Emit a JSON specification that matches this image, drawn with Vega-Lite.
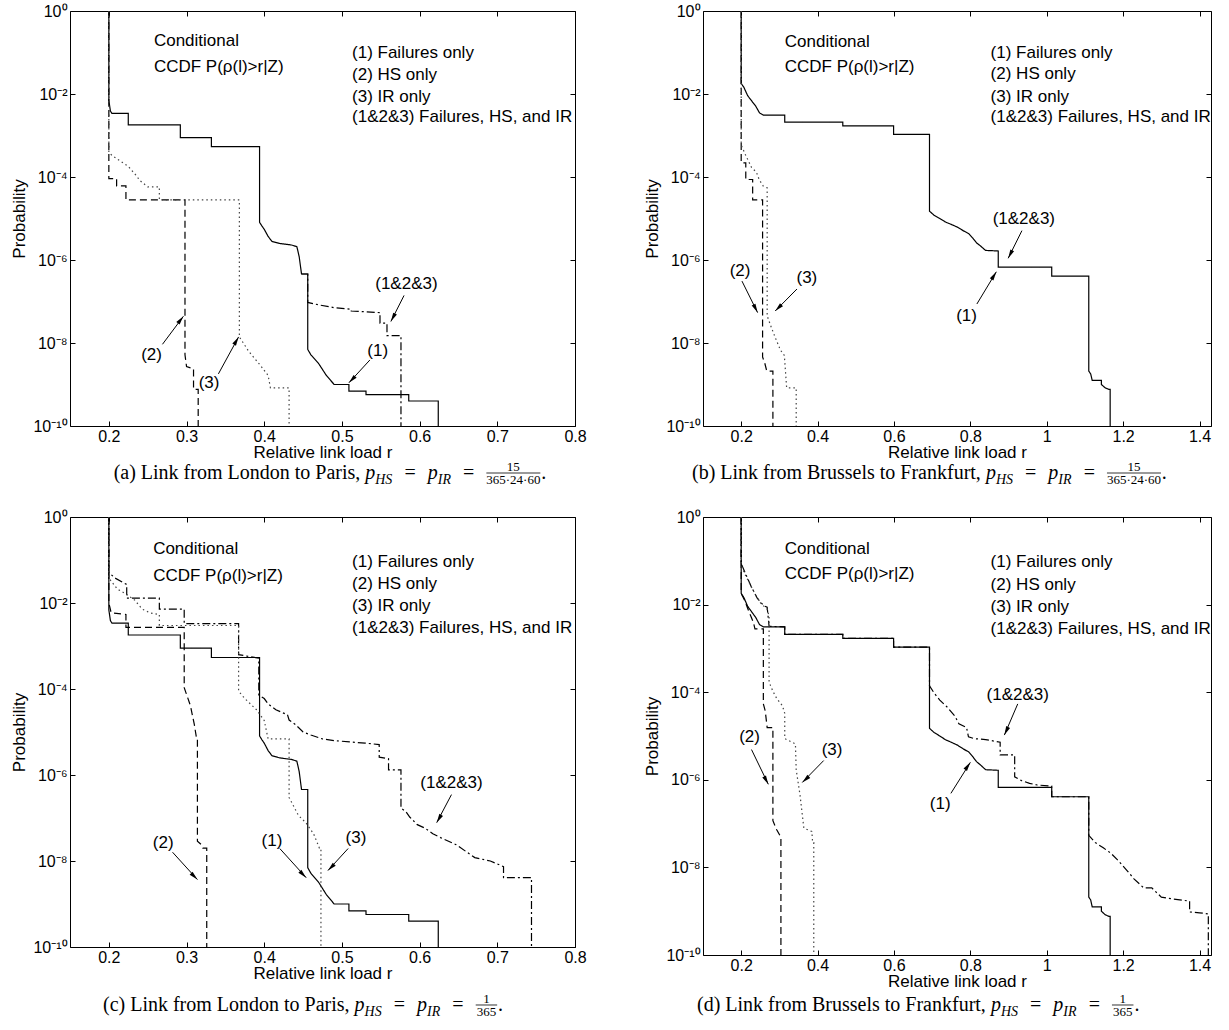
{
"$schema": "https://vega.github.io/schema/vega-lite/v6.json",
"background": "white",
"padding": {"left": 10, "top": 2, "right": 5, "bottom": 0},
"config": {
 "view": {"stroke": "black", "strokeWidth": 1},
 "font": "Liberation Sans",
 "axis": {"domain": false, "grid": false, "tickSize": -5, "tickColor": "black", "tickWidth": 1, "labelFont": "Liberation Sans", "labelFontSize": 16, "labelColor": "black", "labelFlush": false, "labelOverlap": false, "labelBound": false, "titleFont": "Liberation Sans", "titleFontSize": 17, "titleFontWeight": "normal", "titleColor": "black"},
 "axisBottom": {"labelPadding": 7, "titlePadding": 0},
 "axisLeft": {"labelPadding": 8, "titlePadding": 4}
},
"datasets": {
"curves": [
{"panel":"ac","series":"1","r":0.2,"p":1},{"panel":"ac","series":"1","r":0.2,"p":6.9e-3},{"panel":"ac","series":"1","r":0.202,"p":3.9e-3},{"panel":"ac","series":"1","r":0.204,"p":3.4e-3},{"panel":"ac","series":"1","r":0.225,"p":3.4e-3},{"panel":"ac","series":"1","r":0.225,"p":1.8e-3},{"panel":"ac","series":"1","r":0.292,"p":1.8e-3},{"panel":"ac","series":"1","r":0.292,"p":8.9e-4},{"panel":"ac","series":"1","r":0.332,"p":8.9e-4},{"panel":"ac","series":"1","r":0.332,"p":5.4e-4},{"panel":"ac","series":"1","r":0.394,"p":5.4e-4},{"panel":"ac","series":"1","r":0.394,"p":8.1e-6},{"panel":"ac","series":"1","r":0.397,"p":6.6e-6},{"panel":"ac","series":"1","r":0.4,"p":5.5e-6},{"panel":"ac","series":"1","r":0.405,"p":3.7e-6},{"panel":"ac","series":"1","r":0.41,"p":2.8e-6},{"panel":"ac","series":"1","r":0.42,"p":2.5e-6},{"panel":"ac","series":"1","r":0.435,"p":2.3e-6},{"panel":"ac","series":"1","r":0.442,"p":2.1e-6},{"panel":"ac","series":"1","r":0.445,"p":1.2e-6},{"panel":"ac","series":"1","r":0.448,"p":4.6e-7},{"panel":"ac","series":"1","r":0.456,"p":4.6e-7},{"panel":"ac","series":"1","r":0.456,"p":7.0e-9},{"panel":"ac","series":"1","r":0.46,"p":5.2e-9},{"panel":"ac","series":"1","r":0.47,"p":3.2e-9},{"panel":"ac","series":"1","r":0.48,"p":1.65e-9},{"panel":"ac","series":"1","r":0.49,"p":1.0e-9},{"panel":"ac","series":"1","r":0.509,"p":1.0e-9},{"panel":"ac","series":"1","r":0.509,"p":6.9e-10},{"panel":"ac","series":"1","r":0.531,"p":6.9e-10},{"panel":"ac","series":"1","r":0.531,"p":5.7e-10},{"panel":"ac","series":"1","r":0.586,"p":5.7e-10},{"panel":"ac","series":"1","r":0.586,"p":4.0e-10},{"panel":"ac","series":"1","r":0.624,"p":4.0e-10},{"panel":"ac","series":"1","r":0.624,"p":1e-11},
{"panel":"a","series":"2","r":0.2,"p":1},{"panel":"a","series":"2","r":0.2,"p":9.1e-5},{"panel":"a","series":"2","r":0.21,"p":9.1e-5},{"panel":"a","series":"2","r":0.21,"p":6.1e-5},{"panel":"a","series":"2","r":0.222,"p":6.1e-5},{"panel":"a","series":"2","r":0.222,"p":2.8e-5},{"panel":"a","series":"2","r":0.298,"p":2.8e-5},{"panel":"a","series":"2","r":0.298,"p":5.2e-9},{"panel":"a","series":"2","r":0.3,"p":2.7e-9},{"panel":"a","series":"2","r":0.309,"p":2.4e-9},{"panel":"a","series":"2","r":0.309,"p":7.6e-10},{"panel":"a","series":"2","r":0.315,"p":7.6e-10},{"panel":"a","series":"2","r":0.315,"p":1e-11},
{"panel":"a","series":"3","r":0.2,"p":1},{"panel":"a","series":"3","r":0.2,"p":3.9e-4},{"panel":"a","series":"3","r":0.205,"p":3.2e-4},{"panel":"a","series":"3","r":0.215,"p":2.4e-4},{"panel":"a","series":"3","r":0.225,"p":1.8e-4},{"panel":"a","series":"3","r":0.235,"p":1.1e-4},{"panel":"a","series":"3","r":0.24,"p":8.2e-5},{"panel":"a","series":"3","r":0.25,"p":5.8e-5},{"panel":"a","series":"3","r":0.265,"p":5.8e-5},{"panel":"a","series":"3","r":0.265,"p":2.8e-5},{"panel":"a","series":"3","r":0.368,"p":2.8e-5},{"panel":"a","series":"3","r":0.368,"p":1.4e-8},{"panel":"a","series":"3","r":0.38,"p":6.3e-9},{"panel":"a","series":"3","r":0.395,"p":2.9e-9},{"panel":"a","series":"3","r":0.405,"p":1.65e-9},{"panel":"a","series":"3","r":0.408,"p":8.3e-10},{"panel":"a","series":"3","r":0.432,"p":8.3e-10},{"panel":"a","series":"3","r":0.432,"p":1e-11},
{"panel":"a","series":"123","r":0.448,"p":4.6e-7},{"panel":"a","series":"123","r":0.456,"p":4.6e-7},{"panel":"a","series":"123","r":0.456,"p":9.5e-8},{"panel":"a","series":"123","r":0.47,"p":8.3e-8},{"panel":"a","series":"123","r":0.49,"p":7.1e-8},{"panel":"a","series":"123","r":0.512,"p":6.5e-8},{"panel":"a","series":"123","r":0.512,"p":5.9e-8},{"panel":"a","series":"123","r":0.549,"p":5.4e-8},{"panel":"a","series":"123","r":0.549,"p":3.0e-8},{"panel":"a","series":"123","r":0.558,"p":3.0e-8},{"panel":"a","series":"123","r":0.558,"p":1.5e-8},{"panel":"a","series":"123","r":0.576,"p":1.5e-8},{"panel":"a","series":"123","r":0.576,"p":1e-11},
{"panel":"bd","series":"1","r":0.2,"p":1},{"panel":"bd","series":"1","r":0.2,"p":1.8e-2},{"panel":"bd","series":"1","r":0.207,"p":1.45e-2},{"panel":"bd","series":"1","r":0.217,"p":9.1e-3},{"panel":"bd","series":"1","r":0.227,"p":6.9e-3},{"panel":"bd","series":"1","r":0.238,"p":5.1e-3},{"panel":"bd","series":"1","r":0.248,"p":3.5e-3},{"panel":"bd","series":"1","r":0.258,"p":3.1e-3},{"panel":"bd","series":"1","r":0.314,"p":3.1e-3},{"panel":"bd","series":"1","r":0.314,"p":2.1e-3},{"panel":"bd","series":"1","r":0.466,"p":2.1e-3},{"panel":"bd","series":"1","r":0.466,"p":1.7e-3},{"panel":"bd","series":"1","r":0.599,"p":1.7e-3},{"panel":"bd","series":"1","r":0.599,"p":1.07e-3},{"panel":"bd","series":"1","r":0.693,"p":1.07e-3},{"panel":"bd","series":"1","r":0.693,"p":1.5e-5},{"panel":"bd","series":"1","r":0.705,"p":1.2e-5},{"panel":"bd","series":"1","r":0.72,"p":1.0e-5},{"panel":"bd","series":"1","r":0.735,"p":8.2e-6},{"panel":"bd","series":"1","r":0.75,"p":7.2e-6},{"panel":"bd","series":"1","r":0.766,"p":6.2e-6},{"panel":"bd","series":"1","r":0.781,"p":5.1e-6},{"panel":"bd","series":"1","r":0.796,"p":4.3e-6},{"panel":"bd","series":"1","r":0.806,"p":3.4e-6},{"panel":"bd","series":"1","r":0.816,"p":2.6e-6},{"panel":"bd","series":"1","r":0.826,"p":2.2e-6},{"panel":"bd","series":"1","r":0.84,"p":1.7e-6},{"panel":"bd","series":"1","r":0.873,"p":1.65e-6},{"panel":"bd","series":"1","r":0.873,"p":6.7e-7},{"panel":"bd","series":"1","r":1.013,"p":6.7e-7},{"panel":"bd","series":"1","r":1.013,"p":4.1e-7},{"panel":"bd","series":"1","r":1.11,"p":4.1e-7},{"panel":"bd","series":"1","r":1.11,"p":2.1e-9},{"panel":"bd","series":"1","r":1.115,"p":1.8e-9},{"panel":"bd","series":"1","r":1.119,"p":1.26e-9},{"panel":"bd","series":"1","r":1.143,"p":1.26e-9},{"panel":"bd","series":"1","r":1.143,"p":1.0e-9},{"panel":"bd","series":"1","r":1.153,"p":8.3e-10},{"panel":"bd","series":"1","r":1.163,"p":7.6e-10},{"panel":"bd","series":"1","r":1.166,"p":7.6e-10},{"panel":"bd","series":"1","r":1.166,"p":1e-11},
{"panel":"b","series":"2","r":0.2,"p":1},{"panel":"b","series":"2","r":0.2,"p":2.2e-4},{"panel":"b","series":"2","r":0.212,"p":2.2e-4},{"panel":"b","series":"2","r":0.212,"p":8.7e-5},{"panel":"b","series":"2","r":0.23,"p":8.7e-5},{"panel":"b","series":"2","r":0.23,"p":2.8e-5},{"panel":"b","series":"2","r":0.256,"p":2.8e-5},{"panel":"b","series":"2","r":0.256,"p":4.6e-9},{"panel":"b","series":"2","r":0.262,"p":3.2e-9},{"panel":"b","series":"2","r":0.267,"p":2.1e-9},{"panel":"b","series":"2","r":0.283,"p":2.1e-9},{"panel":"b","series":"2","r":0.283,"p":1e-11},
{"panel":"b","series":"3","r":0.2,"p":1},{"panel":"b","series":"3","r":0.2,"p":5.9e-4},{"panel":"b","series":"3","r":0.212,"p":3.3e-4},{"panel":"b","series":"3","r":0.227,"p":1.7e-4},{"panel":"b","series":"3","r":0.24,"p":1.3e-4},{"panel":"b","series":"3","r":0.247,"p":8.7e-5},{"panel":"b","series":"3","r":0.258,"p":6.0e-5},{"panel":"b","series":"3","r":0.268,"p":5.5e-5},{"panel":"b","series":"3","r":0.268,"p":4.5e-8},{"panel":"b","series":"3","r":0.278,"p":2.5e-8},{"panel":"b","series":"3","r":0.288,"p":1.44e-8},{"panel":"b","series":"3","r":0.303,"p":6.7e-9},{"panel":"b","series":"3","r":0.313,"p":5.0e-9},{"panel":"b","series":"3","r":0.319,"p":8.3e-10},{"panel":"b","series":"3","r":0.344,"p":8.3e-10},{"panel":"b","series":"3","r":0.344,"p":1e-11},
{"panel":"c","series":"123","r":0.2,"p":1},{"panel":"c","series":"123","r":0.2,"p":5.1e-2},{"panel":"c","series":"123","r":0.208,"p":3.8e-2},{"panel":"c","series":"123","r":0.218,"p":3.0e-2},{"panel":"c","series":"123","r":0.223,"p":2.7e-2},{"panel":"c","series":"123","r":0.223,"p":1.3e-2},{"panel":"c","series":"123","r":0.265,"p":1.3e-2},{"panel":"c","series":"123","r":0.265,"p":7.2e-3},{"panel":"c","series":"123","r":0.297,"p":7.2e-3},{"panel":"c","series":"123","r":0.297,"p":3.3e-3},{"panel":"c","series":"123","r":0.367,"p":3.3e-3},{"panel":"c","series":"123","r":0.367,"p":6.3e-4},{"panel":"c","series":"123","r":0.393,"p":5.2e-4},{"panel":"c","series":"123","r":0.393,"p":7.3e-5},{"panel":"c","series":"123","r":0.4,"p":6.0e-5},{"panel":"c","series":"123","r":0.405,"p":4.5e-5},{"panel":"c","series":"123","r":0.415,"p":3.3e-5},{"panel":"c","series":"123","r":0.43,"p":2.5e-5},{"panel":"c","series":"123","r":0.432,"p":1.9e-5},{"panel":"c","series":"123","r":0.44,"p":1.5e-5},{"panel":"c","series":"123","r":0.45,"p":1.0e-5},{"panel":"c","series":"123","r":0.46,"p":8.5e-6},{"panel":"c","series":"123","r":0.475,"p":6.9e-6},{"panel":"c","series":"123","r":0.49,"p":6.3e-6},{"panel":"c","series":"123","r":0.51,"p":5.9e-6},{"panel":"c","series":"123","r":0.53,"p":5.5e-6},{"panel":"c","series":"123","r":0.548,"p":5.1e-6},{"panel":"c","series":"123","r":0.548,"p":2.6e-6},{"panel":"c","series":"123","r":0.56,"p":2.4e-6},{"panel":"c","series":"123","r":0.56,"p":1.32e-6},{"panel":"c","series":"123","r":0.576,"p":1.32e-6},{"panel":"c","series":"123","r":0.576,"p":1.7e-7},{"panel":"c","series":"123","r":0.5825,"p":1.4e-7},{"panel":"c","series":"123","r":0.5875,"p":1.04e-7},{"panel":"c","series":"123","r":0.597,"p":7.0e-8},{"panel":"c","series":"123","r":0.607,"p":5.8e-8},{"panel":"c","series":"123","r":0.617,"p":4.3e-8},{"panel":"c","series":"123","r":0.627,"p":3.5e-8},{"panel":"c","series":"123","r":0.647,"p":2.4e-8},{"panel":"c","series":"123","r":0.661,"p":1.6e-8},{"panel":"c","series":"123","r":0.671,"p":1.2e-8},{"panel":"c","series":"123","r":0.691,"p":1.0e-8},{"panel":"c","series":"123","r":0.708,"p":7.4e-9},{"panel":"c","series":"123","r":0.708,"p":4.1e-9},{"panel":"c","series":"123","r":0.744,"p":4.1e-9},{"panel":"c","series":"123","r":0.744,"p":1e-11},
{"panel":"c","series":"2","r":0.2,"p":1},{"panel":"c","series":"2","r":0.2,"p":1.0e-2},{"panel":"c","series":"2","r":0.203,"p":5.9e-3},{"panel":"c","series":"2","r":0.222,"p":5.4e-3},{"panel":"c","series":"2","r":0.222,"p":2.7e-3},{"panel":"c","series":"2","r":0.297,"p":2.7e-3},{"panel":"c","series":"2","r":0.297,"p":1.07e-4},{"panel":"c","series":"2","r":0.305,"p":4.1e-5},{"panel":"c","series":"2","r":0.31,"p":1.5e-5},{"panel":"c","series":"2","r":0.313,"p":6.9e-6},{"panel":"c","series":"2","r":0.314,"p":6.9e-6},{"panel":"c","series":"2","r":0.314,"p":2.9e-8},{"panel":"c","series":"2","r":0.319,"p":2.4e-8},{"panel":"c","series":"2","r":0.321,"p":2.0e-8},{"panel":"c","series":"2","r":0.326,"p":2.0e-8},{"panel":"c","series":"2","r":0.326,"p":1e-11},
{"panel":"c","series":"3","r":0.2,"p":1},{"panel":"c","series":"3","r":0.2,"p":3.8e-2},{"panel":"c","series":"3","r":0.211,"p":2.1e-2},{"panel":"c","series":"3","r":0.2225,"p":1.6e-2},{"panel":"c","series":"3","r":0.233,"p":1.18e-2},{"panel":"c","series":"3","r":0.243,"p":7.2e-3},{"panel":"c","series":"3","r":0.253,"p":5.9e-3},{"panel":"c","series":"3","r":0.265,"p":5.4e-3},{"panel":"c","series":"3","r":0.265,"p":3.0e-3},{"panel":"c","series":"3","r":0.367,"p":3.0e-3},{"panel":"c","series":"3","r":0.367,"p":8.9e-5},{"panel":"c","series":"3","r":0.375,"p":6.0e-5},{"panel":"c","series":"3","r":0.39,"p":3.3e-5},{"panel":"c","series":"3","r":0.4,"p":1.85e-5},{"panel":"c","series":"3","r":0.405,"p":6.9e-6},{"panel":"c","series":"3","r":0.432,"p":6.9e-6},{"panel":"c","series":"3","r":0.432,"p":3.0e-7},{"panel":"c","series":"3","r":0.444,"p":1.15e-7},{"panel":"c","series":"3","r":0.4535,"p":7.8e-8},{"panel":"c","series":"3","r":0.4635,"p":4.3e-8},{"panel":"c","series":"3","r":0.471,"p":2.0e-8},{"panel":"c","series":"3","r":0.473,"p":2.0e-8},{"panel":"c","series":"3","r":0.473,"p":1e-11},
{"panel":"d","series":"123","r":0.2,"p":1},{"panel":"d","series":"123","r":0.2,"p":8.7e-2},{"panel":"d","series":"123","r":0.212,"p":4.9e-2},{"panel":"d","series":"123","r":0.227,"p":2.5e-2},{"panel":"d","series":"123","r":0.242,"p":1.4e-2},{"panel":"d","series":"123","r":0.258,"p":9.6e-3},{"panel":"d","series":"123","r":0.268,"p":8.7e-3},{"panel":"d","series":"123","r":0.273,"p":3.2e-3},{"panel":"d","series":"123","r":0.314,"p":3.1e-3},{"panel":"d","series":"123","r":0.314,"p":2.1e-3},{"panel":"d","series":"123","r":0.466,"p":2.1e-3},{"panel":"d","series":"123","r":0.466,"p":1.7e-3},{"panel":"d","series":"123","r":0.599,"p":1.7e-3},{"panel":"d","series":"123","r":0.599,"p":1.07e-3},{"panel":"d","series":"123","r":0.693,"p":1.07e-3},{"panel":"d","series":"123","r":0.693,"p":1.4e-4},{"panel":"d","series":"123","r":0.705,"p":9.6e-5},{"panel":"d","series":"123","r":0.72,"p":6.6e-5},{"panel":"d","series":"123","r":0.74,"p":4.5e-5},{"panel":"d","series":"123","r":0.76,"p":2.8e-5},{"panel":"d","series":"123","r":0.77,"p":1.9e-5},{"panel":"d","series":"123","r":0.79,"p":1.56e-5},{"panel":"d","series":"123","r":0.795,"p":9.6e-6},{"panel":"d","series":"123","r":0.81,"p":8.7e-6},{"panel":"d","series":"123","r":0.84,"p":8.3e-6},{"panel":"d","series":"123","r":0.878,"p":7.2e-6},{"panel":"d","series":"123","r":0.878,"p":3.7e-6},{"panel":"d","series":"123","r":0.916,"p":3.7e-6},{"panel":"d","series":"123","r":0.916,"p":1.17e-6},{"panel":"d","series":"123","r":0.934,"p":9.6e-7},{"panel":"d","series":"123","r":0.955,"p":8.3e-7},{"panel":"d","series":"123","r":0.975,"p":7.6e-7},{"panel":"d","series":"123","r":1.013,"p":7.2e-7},{"panel":"d","series":"123","r":1.013,"p":4.1e-7},{"panel":"d","series":"123","r":1.11,"p":4.1e-7},{"panel":"d","series":"123","r":1.11,"p":5.4e-8},{"panel":"d","series":"123","r":1.127,"p":3.7e-8},{"panel":"d","series":"123","r":1.148,"p":2.8e-8},{"panel":"d","series":"123","r":1.168,"p":2.1e-8},{"panel":"d","series":"123","r":1.188,"p":1.4e-8},{"panel":"d","series":"123","r":1.209,"p":8.7e-9},{"panel":"d","series":"123","r":1.229,"p":5.4e-9},{"panel":"d","series":"123","r":1.254,"p":3.4e-9},{"panel":"d","series":"123","r":1.275,"p":3.4e-9},{"panel":"d","series":"123","r":1.3,"p":2.1e-9},{"panel":"d","series":"123","r":1.331,"p":1.9e-9},{"panel":"d","series":"123","r":1.374,"p":1.7e-9},{"panel":"d","series":"123","r":1.374,"p":9.6e-10},{"panel":"d","series":"123","r":1.4,"p":9.2e-10},{"panel":"d","series":"123","r":1.423,"p":8.7e-10},{"panel":"d","series":"123","r":1.423,"p":1e-11},
{"panel":"d","series":"2","r":0.2,"p":1},{"panel":"d","series":"2","r":0.2,"p":1.8e-2},{"panel":"d","series":"2","r":0.21,"p":1.2e-2},{"panel":"d","series":"2","r":0.22,"p":7e-3},{"panel":"d","series":"2","r":0.227,"p":5e-3},{"panel":"d","series":"2","r":0.232,"p":3.9e-3},{"panel":"d","series":"2","r":0.236,"p":2.8e-3},{"panel":"d","series":"2","r":0.258,"p":2.8e-3},{"panel":"d","series":"2","r":0.258,"p":5.4e-5},{"panel":"d","series":"2","r":0.263,"p":3.7e-5},{"panel":"d","series":"2","r":0.268,"p":1.56e-5},{"panel":"d","series":"2","r":0.283,"p":1.56e-5},{"panel":"d","series":"2","r":0.283,"p":1.17e-7},{"panel":"d","series":"2","r":0.293,"p":7.2e-8},{"panel":"d","series":"2","r":0.304,"p":4.9e-8},{"panel":"d","series":"2","r":0.304,"p":1e-11},
{"panel":"d","series":"3","r":0.2,"p":1},{"panel":"d","series":"3","r":0.2,"p":7.9e-2},{"panel":"d","series":"3","r":0.212,"p":4.5e-2},{"panel":"d","series":"3","r":0.227,"p":2.5e-2},{"panel":"d","series":"3","r":0.237,"p":1.7e-2},{"panel":"d","series":"3","r":0.252,"p":1.05e-2},{"panel":"d","series":"3","r":0.268,"p":7.9e-3},{"panel":"d","series":"3","r":0.273,"p":5.4e-3},{"panel":"d","series":"3","r":0.273,"p":1.7e-4},{"panel":"d","series":"3","r":0.283,"p":1.05e-4},{"panel":"d","series":"3","r":0.293,"p":7.2e-5},{"panel":"d","series":"3","r":0.308,"p":4.9e-5},{"panel":"d","series":"3","r":0.314,"p":3.3e-5},{"panel":"d","series":"3","r":0.314,"p":8.7e-6},{"panel":"d","series":"3","r":0.342,"p":6.6e-6},{"panel":"d","series":"3","r":0.344,"p":1.7e-6},{"panel":"d","series":"3","r":0.354,"p":4.5e-7},{"panel":"d","series":"3","r":0.364,"p":7.9e-8},{"panel":"d","series":"3","r":0.385,"p":6.6e-8},{"panel":"d","series":"3","r":0.387,"p":3.7e-8},{"panel":"d","series":"3","r":0.39,"p":3.7e-8},{"panel":"d","series":"3","r":0.39,"p":1e-11}
],
"notes": [
{"panel":"a","text":"Conditional","r":0.258,"p":0.186},{"panel":"a","text":"CCDF P(ρ(l)>r|Z)","r":0.258,"p":0.0437},{"panel":"a","text":"(1) Failures only","r":0.513,"p":0.0955},{"panel":"a","text":"(2) HS only","r":0.513,"p":0.0282},{"panel":"a","text":"(3) IR only","r":0.513,"p":8.7e-3},{"panel":"a","text":"(1&2&3) Failures, HS, and IR","r":0.513,"p":2.75e-3},
{"panel":"b","text":"Conditional","r":0.314,"p":0.182},{"panel":"b","text":"CCDF P(ρ(l)>r|Z)","r":0.314,"p":0.0457},{"panel":"b","text":"(1) Failures only","r":0.853,"p":0.098},{"panel":"b","text":"(2) HS only","r":0.853,"p":0.030},{"panel":"b","text":"(3) IR only","r":0.853,"p":8.7e-3},{"panel":"b","text":"(1&2&3) Failures, HS, and IR","r":0.853,"p":2.8e-3},
{"panel":"c","text":"Conditional","r":0.257,"p":0.182},{"panel":"c","text":"CCDF P(ρ(l)>r|Z)","r":0.257,"p":0.0417},{"panel":"c","text":"(1) Failures only","r":0.513,"p":0.091},{"panel":"c","text":"(2) HS only","r":0.513,"p":0.028},{"panel":"c","text":"(3) IR only","r":0.513,"p":8.7e-3},{"panel":"c","text":"(1&2&3) Failures, HS, and IR","r":0.513,"p":2.6e-3},
{"panel":"d","text":"Conditional","r":0.314,"p":0.186},{"panel":"d","text":"CCDF P(ρ(l)>r|Z)","r":0.314,"p":0.049},{"panel":"d","text":"(1) Failures only","r":0.853,"p":0.0955},{"panel":"d","text":"(2) HS only","r":0.853,"p":0.0275},{"panel":"d","text":"(3) IR only","r":0.853,"p":8.7e-3},{"panel":"d","text":"(1&2&3) Failures, HS, and IR","r":0.853,"p":2.75e-3}
],
"tags": [
{"panel":"a","text":"(1&2&3)","r":0.583,"p":2.6e-7},{"panel":"a","text":"(1)","r":0.546,"p":6.3e-9},{"panel":"a","text":"(2)","r":0.255,"p":5.2e-9},{"panel":"a","text":"(3)","r":0.329,"p":1.1e-9},
{"panel":"b","text":"(1&2&3)","r":0.94,"p":1e-5},{"panel":"b","text":"(1)","r":0.79,"p":4.5e-8},{"panel":"b","text":"(2)","r":0.197,"p":5.5e-7},{"panel":"b","text":"(3)","r":0.372,"p":3.6e-7},
{"panel":"c","text":"(1&2&3)","r":0.641,"p":6.5e-7},{"panel":"c","text":"(1)","r":0.41,"p":2.9e-8},{"panel":"c","text":"(2)","r":0.27,"p":2.6e-8},{"panel":"c","text":"(3)","r":0.518,"p":3.5e-8},
{"panel":"d","text":"(1&2&3)","r":0.924,"p":8.7e-5},{"panel":"d","text":"(1)","r":0.721,"p":2.75e-7},{"panel":"d","text":"(2)","r":0.222,"p":9.3e-6},{"panel":"d","text":"(3)","r":0.438,"p":4.9e-6}
],
"arrows": [
{"panel":"a","r0":0.58,"p0":1.4e-7,"r1":0.563,"p1":3.3e-8,"heading":208},{"panel":"a","r0":0.536,"p0":3.9e-9,"r1":0.509,"p1":1.1e-9,"heading":224},{"panel":"a","r0":0.269,"p0":9.3e-9,"r1":0.296,"p1":4.4e-8,"heading":38},{"panel":"a","r0":0.341,"p0":1.8e-9,"r1":0.367,"p1":1.4e-8,"heading":30},
{"panel":"b","r0":0.935,"p0":5.1e-6,"r1":0.899,"p1":1.1e-6,"heading":207},{"panel":"b","r0":0.817,"p0":8.7e-8,"r1":0.868,"p1":5.2e-7,"heading":32},{"panel":"b","r0":0.202,"p0":3.1e-7,"r1":0.243,"p1":5.4e-8,"heading":153},{"panel":"b","r0":0.346,"p0":2.0e-7,"r1":0.289,"p1":5.9e-8,"heading":225},
{"panel":"c","r0":0.641,"p0":3.5e-7,"r1":0.622,"p1":7.8e-8,"heading":210},{"panel":"c","r0":0.42,"p0":1.95e-8,"r1":0.454,"p1":4.1e-9,"heading":135},{"panel":"c","r0":0.282,"p0":1.6e-8,"r1":0.314,"p1":3.7e-9,"heading":135},{"panel":"c","r0":0.508,"p0":1.95e-8,"r1":0.482,"p1":6.0e-9,"heading":225},
{"panel":"d","r0":0.924,"p0":5.4e-5,"r1":0.889,"p1":1.05e-5,"heading":205},{"panel":"d","r0":0.749,"p0":4.9e-7,"r1":0.8,"p1":2.5e-6,"heading":35},{"panel":"d","r0":0.227,"p0":4.9e-6,"r1":0.271,"p1":7.9e-7,"heading":152},{"panel":"d","r0":0.416,"p0":2.75e-6,"r1":0.36,"p1":8.7e-7,"heading":227}
],
"captions": [
{"panel":"a","part":"lead","text":"(a) Link from London to Paris,","r":0.5236},{"panel":"a","part":"it","text":"p","r":0.53},{"panel":"a","part":"sub","text":"HS","r":0.5429},{"panel":"a","part":"eq","text":"=","r":0.5877},{"panel":"a","part":"it","text":"p","r":0.6104},{"panel":"a","part":"sub","text":"IR","r":0.6233},{"panel":"a","part":"eq","text":"=","r":0.6631},{"panel":"a","part":"num","text":"15","r":0.7206},{"panel":"a","part":"den","text":"365·24·60","r":0.7206},{"panel":"a","part":"bar","text":"","r":0.6859,"r2":0.7554},{"panel":"a","part":"end","text":".","r":0.7565},
{"panel":"b","part":"lead","text":"(b) Link from Brussels to Frankfurt,","r":0.8275},{"panel":"b","part":"it","text":"p","r":0.8406},{"panel":"b","part":"sub","text":"HS","r":0.8668},{"panel":"b","part":"eq","text":"=","r":0.9579},{"panel":"b","part":"it","text":"p","r":1.0042},{"panel":"b","part":"sub","text":"IR","r":1.0304},{"panel":"b","part":"eq","text":"=","r":1.1113},{"panel":"b","part":"num","text":"15","r":1.2283},{"panel":"b","part":"den","text":"365·24·60","r":1.2283},{"panel":"b","part":"bar","text":"","r":1.1576,"r2":1.299},{"panel":"b","part":"end","text":".","r":1.3013},
{"panel":"c","part":"lead","text":"(c) Link from London to Paris,","r":0.5099},{"panel":"c","part":"it","text":"p","r":0.5163},{"panel":"c","part":"sub","text":"HS","r":0.5292},{"panel":"c","part":"eq","text":"=","r":0.574},{"panel":"c","part":"it","text":"p","r":0.5967},{"panel":"c","part":"sub","text":"IR","r":0.6096},{"panel":"c","part":"eq","text":"=","r":0.6494},{"panel":"c","part":"num","text":"1","r":0.6861},{"panel":"c","part":"den","text":"365","r":0.6861},{"panel":"c","part":"bar","text":"","r":0.6722,"r2":0.6998},{"panel":"c","part":"end","text":".","r":0.701},
{"panel":"d","part":"lead","text":"(d) Link from Brussels to Frankfurt,","r":0.8406},{"panel":"d","part":"it","text":"p","r":0.8537},{"panel":"d","part":"sub","text":"HS","r":0.8799},{"panel":"d","part":"eq","text":"=","r":0.971},{"panel":"d","part":"it","text":"p","r":1.0173},{"panel":"d","part":"sub","text":"IR","r":1.0435},{"panel":"d","part":"eq","text":"=","r":1.1244},{"panel":"d","part":"num","text":"1","r":1.199},{"panel":"d","part":"den","text":"365","r":1.199},{"panel":"d","part":"bar","text":"","r":1.1707,"r2":1.227},{"panel":"d","part":"end","text":".","r":1.2294}
]
},
"spacing": 20,
"vconcat": [
{"spacing": 56, "hconcat": [
{"width": 505, "height": 415,
 "resolve": {"axis": {"x": "independent", "y": "independent"}},
 "layer": [
  {"data": {"name": "curves"}, "transform": [{"filter": "indexof(datum.panel,'a')>=0"}],
   "mark": {"type": "line", "clip": true, "strokeWidth": 1.2},
   "encoding": {
    "x": {"field": "r", "type": "quantitative", "scale": {"domain": [0.15, 0.8], "zero": false, "nice": false}, "axis": {"values": [0.2,0.3,0.4,0.5,0.6,0.7,0.8], "format": "~g", "title": "Relative link load r"}},
    "y": {"field": "p", "type": "quantitative", "scale": {"type": "log", "domain": [1e-10, 1], "nice": false}, "axis": {"values": [1e-10,1e-8,1e-6,1e-4,1e-2,1], "labelExpr": "datum.value > 0.5 ? '10⁰' : datum.value > 5e-3 ? '10⁻²' : datum.value > 5e-5 ? '10⁻⁴' : datum.value > 5e-7 ? '10⁻⁶' : datum.value > 5e-9 ? '10⁻⁸' : '10⁻¹⁰'", "title": "Probability"}},
    "detail": {"field": "series", "type": "nominal"},
    "strokeDash": {"field": "series", "type": "nominal", "scale": {"domain": ["1","2","3","123"], "range": [[1,0],[7,4],[1.5,3],[8,3,2,3]]}, "legend": null},
    "color": {"field": "series", "type": "nominal", "scale": {"domain": ["1","2","3","123"], "range": ["#000000","#000000","#444444","#000000"]}, "legend": null},
    "order": {"value": null}}},
  {"data": {"name": "arrows"}, "transform": [{"filter": "datum.panel=='a'"}],
   "mark": {"type": "rule", "color": "black", "strokeWidth": 1},
   "encoding": {
    "x": {"field": "r0", "type": "quantitative", "axis": {"orient": "top", "values": [0.2,0.3,0.4,0.5,0.6,0.7,0.8], "labels": false, "title": null}},
    "y": {"field": "p0", "type": "quantitative", "axis": {"orient": "right", "values": [1e-10,1e-8,1e-6,1e-4,1e-2,1], "labels": false, "title": null}},
    "x2": {"field": "r1"}, "y2": {"field": "p1"}}},
  {"data": {"name": "arrows"}, "transform": [{"filter": "datum.panel=='a'"}],
   "mark": {"type": "point", "shape": "M0,0L0.4,1.7L-0.4,1.7Z", "filled": true, "color": "black", "opacity": 1, "size": 110},
   "encoding": {"x": {"field": "r1", "type": "quantitative", "axis": null}, "y": {"field": "p1", "type": "quantitative", "axis": null}, "angle": {"field": "heading", "type": "quantitative", "scale": null}}},
  {"data": {"name": "notes"}, "transform": [{"filter": "datum.panel=='a'"}],
   "mark": {"type": "text", "align": "left", "baseline": "middle", "fontSize": 17, "font": "Liberation Sans", "color": "black"},
   "encoding": {"x": {"field": "r", "type": "quantitative", "axis": null}, "y": {"field": "p", "type": "quantitative", "axis": null}, "text": {"field": "text"}}},
  {"data": {"name": "tags"}, "transform": [{"filter": "datum.panel=='a'"}],
   "mark": {"type": "text", "align": "center", "baseline": "middle", "fontSize": 17, "font": "Liberation Sans", "color": "black"},
   "encoding": {"x": {"field": "r", "type": "quantitative", "axis": null}, "y": {"field": "p", "type": "quantitative", "axis": null}, "text": {"field": "text"}}},
  {"data": {"name": "captions"}, "transform": [{"filter": "datum.panel=='a' && datum.part=='lead'"}],
   "mark": {"type": "text", "align": "right", "baseline": "alphabetic", "fontSize": 20, "font": "Liberation Serif", "color": "black"},
   "encoding": {"x": {"field": "r", "type": "quantitative", "axis": null}, "y": {"datum": 5.28e-12, "type": "quantitative", "axis": null}, "text": {"field": "text"}}},
  {"data": {"name": "captions"}, "transform": [{"filter": "datum.panel=='a' && datum.part=='it'"}],
   "mark": {"type": "text", "align": "left", "baseline": "alphabetic", "fontSize": 20, "fontStyle": "italic", "font": "Liberation Serif", "color": "black"},
   "encoding": {"x": {"field": "r", "type": "quantitative", "axis": null}, "y": {"datum": 5.28e-12, "type": "quantitative", "axis": null}, "text": {"field": "text"}}},
  {"data": {"name": "captions"}, "transform": [{"filter": "datum.panel=='a' && datum.part=='sub'"}],
   "mark": {"type": "text", "align": "left", "baseline": "alphabetic", "fontSize": 14, "fontStyle": "italic", "font": "Liberation Serif", "color": "black", "dy": 5},
   "encoding": {"x": {"field": "r", "type": "quantitative", "axis": null}, "y": {"datum": 5.28e-12, "type": "quantitative", "axis": null}, "text": {"field": "text"}}},
  {"data": {"name": "captions"}, "transform": [{"filter": "datum.panel=='a' && datum.part=='eq'"}],
   "mark": {"type": "text", "align": "center", "baseline": "alphabetic", "fontSize": 20, "font": "Liberation Serif", "color": "black"},
   "encoding": {"x": {"field": "r", "type": "quantitative", "axis": null}, "y": {"datum": 5.28e-12, "type": "quantitative", "axis": null}, "text": {"field": "text"}}},
  {"data": {"name": "captions"}, "transform": [{"filter": "datum.panel=='a' && datum.part=='num'"}],
   "mark": {"type": "text", "align": "center", "baseline": "alphabetic", "fontSize": 13, "font": "Liberation Serif", "color": "black", "dy": -8},
   "encoding": {"x": {"field": "r", "type": "quantitative", "axis": null}, "y": {"datum": 5.28e-12, "type": "quantitative", "axis": null}, "text": {"field": "text"}}},
  {"data": {"name": "captions"}, "transform": [{"filter": "datum.panel=='a' && datum.part=='den'"}],
   "mark": {"type": "text", "align": "center", "baseline": "alphabetic", "fontSize": 13, "font": "Liberation Serif", "color": "black", "dy": 5},
   "encoding": {"x": {"field": "r", "type": "quantitative", "axis": null}, "y": {"datum": 5.28e-12, "type": "quantitative", "axis": null}, "text": {"field": "text"}}},
  {"data": {"name": "captions"}, "transform": [{"filter": "datum.panel=='a' && datum.part=='bar'"}],
   "mark": {"type": "rule", "color": "black", "strokeWidth": 0.8},
   "encoding": {"x": {"field": "r", "type": "quantitative", "axis": null}, "x2": {"field": "r2"}, "y": {"datum": 7.37e-12, "type": "quantitative", "axis": null}}},
  {"data": {"name": "captions"}, "transform": [{"filter": "datum.panel=='a' && datum.part=='end'"}],
   "mark": {"type": "text", "align": "left", "baseline": "alphabetic", "fontSize": 20, "font": "Liberation Serif", "color": "black"},
   "encoding": {"x": {"field": "r", "type": "quantitative", "axis": null}, "y": {"datum": 5.28e-12, "type": "quantitative", "axis": null}, "text": {"field": "text"}}}
 ]},
{"width": 508, "height": 415,
 "resolve": {"axis": {"x": "independent", "y": "independent"}},
 "layer": [
  {"data": {"name": "curves"}, "transform": [{"filter": "indexof(datum.panel,'b')>=0"}],
   "mark": {"type": "line", "clip": true, "strokeWidth": 1.2},
   "encoding": {
    "x": {"field": "r", "type": "quantitative", "scale": {"domain": [0.1, 1.43], "zero": false, "nice": false}, "axis": {"values": [0.2,0.4,0.6,0.8,1,1.2,1.4], "format": "~g", "title": "Relative link load r"}},
    "y": {"field": "p", "type": "quantitative", "scale": {"type": "log", "domain": [1e-10, 1], "nice": false}, "axis": {"values": [1e-10,1e-8,1e-6,1e-4,1e-2,1], "labelExpr": "datum.value > 0.5 ? '10⁰' : datum.value > 5e-3 ? '10⁻²' : datum.value > 5e-5 ? '10⁻⁴' : datum.value > 5e-7 ? '10⁻⁶' : datum.value > 5e-9 ? '10⁻⁸' : '10⁻¹⁰'", "title": "Probability"}},
    "detail": {"field": "series", "type": "nominal"},
    "strokeDash": {"field": "series", "type": "nominal", "scale": {"domain": ["1","2","3","123"], "range": [[1,0],[7,4],[1.5,3],[8,3,2,3]]}, "legend": null},
    "color": {"field": "series", "type": "nominal", "scale": {"domain": ["1","2","3","123"], "range": ["#000000","#000000","#444444","#000000"]}, "legend": null},
    "order": {"value": null}}},
  {"data": {"name": "arrows"}, "transform": [{"filter": "datum.panel=='b'"}],
   "mark": {"type": "rule", "color": "black", "strokeWidth": 1},
   "encoding": {
    "x": {"field": "r0", "type": "quantitative", "axis": {"orient": "top", "values": [0.2,0.4,0.6,0.8,1,1.2,1.4], "labels": false, "title": null}},
    "y": {"field": "p0", "type": "quantitative", "axis": {"orient": "right", "values": [1e-10,1e-8,1e-6,1e-4,1e-2,1], "labels": false, "title": null}},
    "x2": {"field": "r1"}, "y2": {"field": "p1"}}},
  {"data": {"name": "arrows"}, "transform": [{"filter": "datum.panel=='b'"}],
   "mark": {"type": "point", "shape": "M0,0L0.4,1.7L-0.4,1.7Z", "filled": true, "color": "black", "opacity": 1, "size": 110},
   "encoding": {"x": {"field": "r1", "type": "quantitative", "axis": null}, "y": {"field": "p1", "type": "quantitative", "axis": null}, "angle": {"field": "heading", "type": "quantitative", "scale": null}}},
  {"data": {"name": "notes"}, "transform": [{"filter": "datum.panel=='b'"}],
   "mark": {"type": "text", "align": "left", "baseline": "middle", "fontSize": 17, "font": "Liberation Sans", "color": "black"},
   "encoding": {"x": {"field": "r", "type": "quantitative", "axis": null}, "y": {"field": "p", "type": "quantitative", "axis": null}, "text": {"field": "text"}}},
  {"data": {"name": "tags"}, "transform": [{"filter": "datum.panel=='b'"}],
   "mark": {"type": "text", "align": "center", "baseline": "middle", "fontSize": 17, "font": "Liberation Sans", "color": "black"},
   "encoding": {"x": {"field": "r", "type": "quantitative", "axis": null}, "y": {"field": "p", "type": "quantitative", "axis": null}, "text": {"field": "text"}}},
  {"data": {"name": "captions"}, "transform": [{"filter": "datum.panel=='b' && datum.part=='lead'"}],
   "mark": {"type": "text", "align": "right", "baseline": "alphabetic", "fontSize": 20, "font": "Liberation Serif", "color": "black"},
   "encoding": {"x": {"field": "r", "type": "quantitative", "axis": null}, "y": {"datum": 5.28e-12, "type": "quantitative", "axis": null}, "text": {"field": "text"}}},
  {"data": {"name": "captions"}, "transform": [{"filter": "datum.panel=='b' && datum.part=='it'"}],
   "mark": {"type": "text", "align": "left", "baseline": "alphabetic", "fontSize": 20, "fontStyle": "italic", "font": "Liberation Serif", "color": "black"},
   "encoding": {"x": {"field": "r", "type": "quantitative", "axis": null}, "y": {"datum": 5.28e-12, "type": "quantitative", "axis": null}, "text": {"field": "text"}}},
  {"data": {"name": "captions"}, "transform": [{"filter": "datum.panel=='b' && datum.part=='sub'"}],
   "mark": {"type": "text", "align": "left", "baseline": "alphabetic", "fontSize": 14, "fontStyle": "italic", "font": "Liberation Serif", "color": "black", "dy": 5},
   "encoding": {"x": {"field": "r", "type": "quantitative", "axis": null}, "y": {"datum": 5.28e-12, "type": "quantitative", "axis": null}, "text": {"field": "text"}}},
  {"data": {"name": "captions"}, "transform": [{"filter": "datum.panel=='b' && datum.part=='eq'"}],
   "mark": {"type": "text", "align": "center", "baseline": "alphabetic", "fontSize": 20, "font": "Liberation Serif", "color": "black"},
   "encoding": {"x": {"field": "r", "type": "quantitative", "axis": null}, "y": {"datum": 5.28e-12, "type": "quantitative", "axis": null}, "text": {"field": "text"}}},
  {"data": {"name": "captions"}, "transform": [{"filter": "datum.panel=='b' && datum.part=='num'"}],
   "mark": {"type": "text", "align": "center", "baseline": "alphabetic", "fontSize": 13, "font": "Liberation Serif", "color": "black", "dy": -8},
   "encoding": {"x": {"field": "r", "type": "quantitative", "axis": null}, "y": {"datum": 5.28e-12, "type": "quantitative", "axis": null}, "text": {"field": "text"}}},
  {"data": {"name": "captions"}, "transform": [{"filter": "datum.panel=='b' && datum.part=='den'"}],
   "mark": {"type": "text", "align": "center", "baseline": "alphabetic", "fontSize": 13, "font": "Liberation Serif", "color": "black", "dy": 5},
   "encoding": {"x": {"field": "r", "type": "quantitative", "axis": null}, "y": {"datum": 5.28e-12, "type": "quantitative", "axis": null}, "text": {"field": "text"}}},
  {"data": {"name": "captions"}, "transform": [{"filter": "datum.panel=='b' && datum.part=='bar'"}],
   "mark": {"type": "rule", "color": "black", "strokeWidth": 0.8},
   "encoding": {"x": {"field": "r", "type": "quantitative", "axis": null}, "x2": {"field": "r2"}, "y": {"datum": 7.37e-12, "type": "quantitative", "axis": null}}},
  {"data": {"name": "captions"}, "transform": [{"filter": "datum.panel=='b' && datum.part=='end'"}],
   "mark": {"type": "text", "align": "left", "baseline": "alphabetic", "fontSize": 20, "font": "Liberation Serif", "color": "black"},
   "encoding": {"x": {"field": "r", "type": "quantitative", "axis": null}, "y": {"datum": 5.28e-12, "type": "quantitative", "axis": null}, "text": {"field": "text"}}}
 ]}
]},
{"spacing": 56, "hconcat": [
{"width": 505, "height": 430,
 "resolve": {"axis": {"x": "independent", "y": "independent"}},
 "layer": [
  {"data": {"name": "curves"}, "transform": [{"filter": "indexof(datum.panel,'c')>=0"}],
   "mark": {"type": "line", "clip": true, "strokeWidth": 1.2},
   "encoding": {
    "x": {"field": "r", "type": "quantitative", "scale": {"domain": [0.15, 0.8], "zero": false, "nice": false}, "axis": {"values": [0.2,0.3,0.4,0.5,0.6,0.7,0.8], "format": "~g", "title": "Relative link load r"}},
    "y": {"field": "p", "type": "quantitative", "scale": {"type": "log", "domain": [1e-10, 1], "nice": false}, "axis": {"values": [1e-10,1e-8,1e-6,1e-4,1e-2,1], "labelExpr": "datum.value > 0.5 ? '10⁰' : datum.value > 5e-3 ? '10⁻²' : datum.value > 5e-5 ? '10⁻⁴' : datum.value > 5e-7 ? '10⁻⁶' : datum.value > 5e-9 ? '10⁻⁸' : '10⁻¹⁰'", "title": "Probability"}},
    "detail": {"field": "series", "type": "nominal"},
    "strokeDash": {"field": "series", "type": "nominal", "scale": {"domain": ["1","2","3","123"], "range": [[1,0],[7,4],[1.5,3],[8,3,2,3]]}, "legend": null},
    "color": {"field": "series", "type": "nominal", "scale": {"domain": ["1","2","3","123"], "range": ["#000000","#000000","#444444","#000000"]}, "legend": null},
    "order": {"value": null}}},
  {"data": {"name": "arrows"}, "transform": [{"filter": "datum.panel=='c'"}],
   "mark": {"type": "rule", "color": "black", "strokeWidth": 1},
   "encoding": {
    "x": {"field": "r0", "type": "quantitative", "axis": {"orient": "top", "values": [0.2,0.3,0.4,0.5,0.6,0.7,0.8], "labels": false, "title": null}},
    "y": {"field": "p0", "type": "quantitative", "axis": {"orient": "right", "values": [1e-10,1e-8,1e-6,1e-4,1e-2,1], "labels": false, "title": null}},
    "x2": {"field": "r1"}, "y2": {"field": "p1"}}},
  {"data": {"name": "arrows"}, "transform": [{"filter": "datum.panel=='c'"}],
   "mark": {"type": "point", "shape": "M0,0L0.4,1.7L-0.4,1.7Z", "filled": true, "color": "black", "opacity": 1, "size": 110},
   "encoding": {"x": {"field": "r1", "type": "quantitative", "axis": null}, "y": {"field": "p1", "type": "quantitative", "axis": null}, "angle": {"field": "heading", "type": "quantitative", "scale": null}}},
  {"data": {"name": "notes"}, "transform": [{"filter": "datum.panel=='c'"}],
   "mark": {"type": "text", "align": "left", "baseline": "middle", "fontSize": 17, "font": "Liberation Sans", "color": "black"},
   "encoding": {"x": {"field": "r", "type": "quantitative", "axis": null}, "y": {"field": "p", "type": "quantitative", "axis": null}, "text": {"field": "text"}}},
  {"data": {"name": "tags"}, "transform": [{"filter": "datum.panel=='c'"}],
   "mark": {"type": "text", "align": "center", "baseline": "middle", "fontSize": 17, "font": "Liberation Sans", "color": "black"},
   "encoding": {"x": {"field": "r", "type": "quantitative", "axis": null}, "y": {"field": "p", "type": "quantitative", "axis": null}, "text": {"field": "text"}}},
  {"data": {"name": "captions"}, "transform": [{"filter": "datum.panel=='c' && datum.part=='lead'"}],
   "mark": {"type": "text", "align": "right", "baseline": "alphabetic", "fontSize": 20, "font": "Liberation Serif", "color": "black"},
   "encoding": {"x": {"field": "r", "type": "quantitative", "axis": null}, "y": {"datum": 3.25e-12, "type": "quantitative", "axis": null}, "text": {"field": "text"}}},
  {"data": {"name": "captions"}, "transform": [{"filter": "datum.panel=='c' && datum.part=='it'"}],
   "mark": {"type": "text", "align": "left", "baseline": "alphabetic", "fontSize": 20, "fontStyle": "italic", "font": "Liberation Serif", "color": "black"},
   "encoding": {"x": {"field": "r", "type": "quantitative", "axis": null}, "y": {"datum": 3.25e-12, "type": "quantitative", "axis": null}, "text": {"field": "text"}}},
  {"data": {"name": "captions"}, "transform": [{"filter": "datum.panel=='c' && datum.part=='sub'"}],
   "mark": {"type": "text", "align": "left", "baseline": "alphabetic", "fontSize": 14, "fontStyle": "italic", "font": "Liberation Serif", "color": "black", "dy": 5},
   "encoding": {"x": {"field": "r", "type": "quantitative", "axis": null}, "y": {"datum": 3.25e-12, "type": "quantitative", "axis": null}, "text": {"field": "text"}}},
  {"data": {"name": "captions"}, "transform": [{"filter": "datum.panel=='c' && datum.part=='eq'"}],
   "mark": {"type": "text", "align": "center", "baseline": "alphabetic", "fontSize": 20, "font": "Liberation Serif", "color": "black"},
   "encoding": {"x": {"field": "r", "type": "quantitative", "axis": null}, "y": {"datum": 3.25e-12, "type": "quantitative", "axis": null}, "text": {"field": "text"}}},
  {"data": {"name": "captions"}, "transform": [{"filter": "datum.panel=='c' && datum.part=='num'"}],
   "mark": {"type": "text", "align": "center", "baseline": "alphabetic", "fontSize": 13, "font": "Liberation Serif", "color": "black", "dy": -8},
   "encoding": {"x": {"field": "r", "type": "quantitative", "axis": null}, "y": {"datum": 3.25e-12, "type": "quantitative", "axis": null}, "text": {"field": "text"}}},
  {"data": {"name": "captions"}, "transform": [{"filter": "datum.panel=='c' && datum.part=='den'"}],
   "mark": {"type": "text", "align": "center", "baseline": "alphabetic", "fontSize": 13, "font": "Liberation Serif", "color": "black", "dy": 5},
   "encoding": {"x": {"field": "r", "type": "quantitative", "axis": null}, "y": {"datum": 3.25e-12, "type": "quantitative", "axis": null}, "text": {"field": "text"}}},
  {"data": {"name": "captions"}, "transform": [{"filter": "datum.panel=='c' && datum.part=='bar'"}],
   "mark": {"type": "rule", "color": "black", "strokeWidth": 0.8},
   "encoding": {"x": {"field": "r", "type": "quantitative", "axis": null}, "x2": {"field": "r2"}, "y": {"datum": 4.48e-12, "type": "quantitative", "axis": null}}},
  {"data": {"name": "captions"}, "transform": [{"filter": "datum.panel=='c' && datum.part=='end'"}],
   "mark": {"type": "text", "align": "left", "baseline": "alphabetic", "fontSize": 20, "font": "Liberation Serif", "color": "black"},
   "encoding": {"x": {"field": "r", "type": "quantitative", "axis": null}, "y": {"datum": 3.25e-12, "type": "quantitative", "axis": null}, "text": {"field": "text"}}}
 ]},
{"width": 508, "height": 438,
 "resolve": {"axis": {"x": "independent", "y": "independent"}},
 "layer": [
  {"data": {"name": "curves"}, "transform": [{"filter": "indexof(datum.panel,'d')>=0"}],
   "mark": {"type": "line", "clip": true, "strokeWidth": 1.2},
   "encoding": {
    "x": {"field": "r", "type": "quantitative", "scale": {"domain": [0.1, 1.43], "zero": false, "nice": false}, "axis": {"values": [0.2,0.4,0.6,0.8,1,1.2,1.4], "format": "~g", "title": "Relative link load r"}},
    "y": {"field": "p", "type": "quantitative", "scale": {"type": "log", "domain": [1e-10, 1], "nice": false}, "axis": {"values": [1e-10,1e-8,1e-6,1e-4,1e-2,1], "labelExpr": "datum.value > 0.5 ? '10⁰' : datum.value > 5e-3 ? '10⁻²' : datum.value > 5e-5 ? '10⁻⁴' : datum.value > 5e-7 ? '10⁻⁶' : datum.value > 5e-9 ? '10⁻⁸' : '10⁻¹⁰'", "title": "Probability"}},
    "detail": {"field": "series", "type": "nominal"},
    "strokeDash": {"field": "series", "type": "nominal", "scale": {"domain": ["1","2","3","123"], "range": [[1,0],[7,4],[1.5,3],[8,3,2,3]]}, "legend": null},
    "color": {"field": "series", "type": "nominal", "scale": {"domain": ["1","2","3","123"], "range": ["#000000","#000000","#444444","#000000"]}, "legend": null},
    "order": {"value": null}}},
  {"data": {"name": "arrows"}, "transform": [{"filter": "datum.panel=='d'"}],
   "mark": {"type": "rule", "color": "black", "strokeWidth": 1},
   "encoding": {
    "x": {"field": "r0", "type": "quantitative", "axis": {"orient": "top", "values": [0.2,0.4,0.6,0.8,1,1.2,1.4], "labels": false, "title": null}},
    "y": {"field": "p0", "type": "quantitative", "axis": {"orient": "right", "values": [1e-10,1e-8,1e-6,1e-4,1e-2,1], "labels": false, "title": null}},
    "x2": {"field": "r1"}, "y2": {"field": "p1"}}},
  {"data": {"name": "arrows"}, "transform": [{"filter": "datum.panel=='d'"}],
   "mark": {"type": "point", "shape": "M0,0L0.4,1.7L-0.4,1.7Z", "filled": true, "color": "black", "opacity": 1, "size": 110},
   "encoding": {"x": {"field": "r1", "type": "quantitative", "axis": null}, "y": {"field": "p1", "type": "quantitative", "axis": null}, "angle": {"field": "heading", "type": "quantitative", "scale": null}}},
  {"data": {"name": "notes"}, "transform": [{"filter": "datum.panel=='d'"}],
   "mark": {"type": "text", "align": "left", "baseline": "middle", "fontSize": 17, "font": "Liberation Sans", "color": "black"},
   "encoding": {"x": {"field": "r", "type": "quantitative", "axis": null}, "y": {"field": "p", "type": "quantitative", "axis": null}, "text": {"field": "text"}}},
  {"data": {"name": "tags"}, "transform": [{"filter": "datum.panel=='d'"}],
   "mark": {"type": "text", "align": "center", "baseline": "middle", "fontSize": 17, "font": "Liberation Sans", "color": "black"},
   "encoding": {"x": {"field": "r", "type": "quantitative", "axis": null}, "y": {"field": "p", "type": "quantitative", "axis": null}, "text": {"field": "text"}}},
  {"data": {"name": "captions"}, "transform": [{"filter": "datum.panel=='d' && datum.part=='lead'"}],
   "mark": {"type": "text", "align": "right", "baseline": "alphabetic", "fontSize": 20, "font": "Liberation Serif", "color": "black"},
   "encoding": {"x": {"field": "r", "type": "quantitative", "axis": null}, "y": {"datum": 5.26e-12, "type": "quantitative", "axis": null}, "text": {"field": "text"}}},
  {"data": {"name": "captions"}, "transform": [{"filter": "datum.panel=='d' && datum.part=='it'"}],
   "mark": {"type": "text", "align": "left", "baseline": "alphabetic", "fontSize": 20, "fontStyle": "italic", "font": "Liberation Serif", "color": "black"},
   "encoding": {"x": {"field": "r", "type": "quantitative", "axis": null}, "y": {"datum": 5.26e-12, "type": "quantitative", "axis": null}, "text": {"field": "text"}}},
  {"data": {"name": "captions"}, "transform": [{"filter": "datum.panel=='d' && datum.part=='sub'"}],
   "mark": {"type": "text", "align": "left", "baseline": "alphabetic", "fontSize": 14, "fontStyle": "italic", "font": "Liberation Serif", "color": "black", "dy": 5},
   "encoding": {"x": {"field": "r", "type": "quantitative", "axis": null}, "y": {"datum": 5.26e-12, "type": "quantitative", "axis": null}, "text": {"field": "text"}}},
  {"data": {"name": "captions"}, "transform": [{"filter": "datum.panel=='d' && datum.part=='eq'"}],
   "mark": {"type": "text", "align": "center", "baseline": "alphabetic", "fontSize": 20, "font": "Liberation Serif", "color": "black"},
   "encoding": {"x": {"field": "r", "type": "quantitative", "axis": null}, "y": {"datum": 5.26e-12, "type": "quantitative", "axis": null}, "text": {"field": "text"}}},
  {"data": {"name": "captions"}, "transform": [{"filter": "datum.panel=='d' && datum.part=='num'"}],
   "mark": {"type": "text", "align": "center", "baseline": "alphabetic", "fontSize": 13, "font": "Liberation Serif", "color": "black", "dy": -8},
   "encoding": {"x": {"field": "r", "type": "quantitative", "axis": null}, "y": {"datum": 5.26e-12, "type": "quantitative", "axis": null}, "text": {"field": "text"}}},
  {"data": {"name": "captions"}, "transform": [{"filter": "datum.panel=='d' && datum.part=='den'"}],
   "mark": {"type": "text", "align": "center", "baseline": "alphabetic", "fontSize": 13, "font": "Liberation Serif", "color": "black", "dy": 5},
   "encoding": {"x": {"field": "r", "type": "quantitative", "axis": null}, "y": {"datum": 5.26e-12, "type": "quantitative", "axis": null}, "text": {"field": "text"}}},
  {"data": {"name": "captions"}, "transform": [{"filter": "datum.panel=='d' && datum.part=='bar'"}],
   "mark": {"type": "rule", "color": "black", "strokeWidth": 0.8},
   "encoding": {"x": {"field": "r", "type": "quantitative", "axis": null}, "x2": {"field": "r2"}, "y": {"datum": 7.22e-12, "type": "quantitative", "axis": null}}},
  {"data": {"name": "captions"}, "transform": [{"filter": "datum.panel=='d' && datum.part=='end'"}],
   "mark": {"type": "text", "align": "left", "baseline": "alphabetic", "fontSize": 20, "font": "Liberation Serif", "color": "black"},
   "encoding": {"x": {"field": "r", "type": "quantitative", "axis": null}, "y": {"datum": 5.26e-12, "type": "quantitative", "axis": null}, "text": {"field": "text"}}}
 ]}
]}
]
}
